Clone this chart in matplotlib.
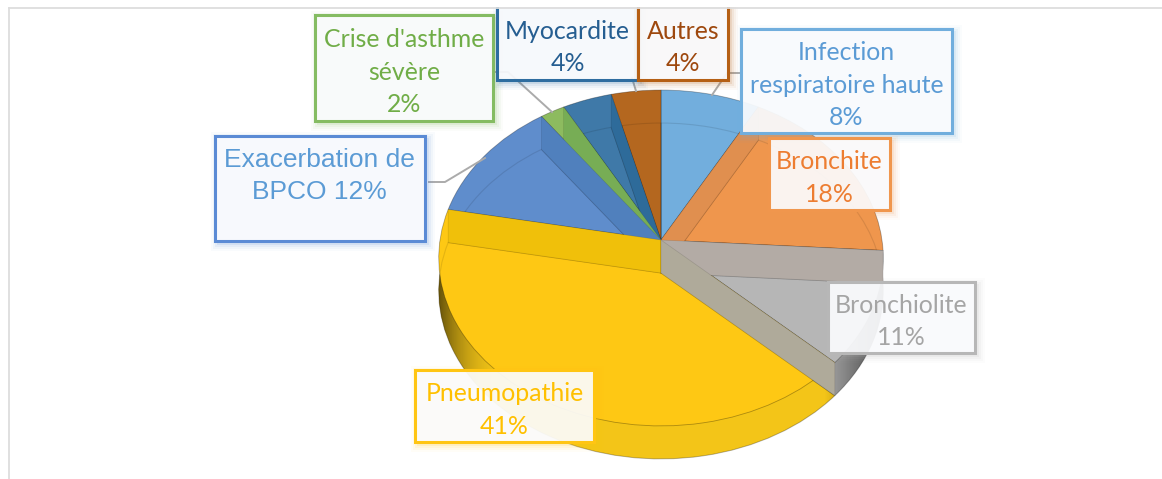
import numpy as np
import matplotlib
matplotlib.use('Agg')
import matplotlib.pyplot as plt
from matplotlib.patches import Polygon, Rectangle
from matplotlib.transforms import Transform, Affine2D

# data
categories = ['Infection\nrespiratoire haute', 'Bronchite', 'Bronchiolite', 'Pneumopathie',
              'Exacerbation de\nBPCO', "Crise d'asthme\nsévère", 'Myocardite', 'Autres']
values = [8, 18, 11, 41, 12, 2, 4, 4]

# styles
face_colors = ['#72AEDD', '#EF964D', '#B6B6B6', '#FEC814', '#5F8DCC', '#8DBB5F', '#3F79A8', '#B4671F']
wall_colors = ['#72AEDD', '#EF964D', '#A8A8A8', '#F3C518', '#5F8DCC', '#8DBB5F', '#3F79A8', '#B4671F']
text_colors = ['#5B9BD5', '#ED7D31', '#A5A5A5', '#FFC000', '#5B9BD5', '#70AD47', '#255E91', '#9E480E']
border_colors = ['#71AEDD', '#F0964D', '#B7B7B7', '#FFC513', '#5B8BD5', '#85BC62', '#2E6DA0', '#B55F14']
# x0, y0, x1, y1 of the label boxes in pixels
boxes = [(741, 29, 952, 133), (769, 138, 890, 210), (828, 282, 975, 353), (415, 370, 594, 442),
         (215, 136, 425, 241), (315, 15, 493, 121), (497, 3, 638, 80), (638, 3, 728, 80)]
# drawing order of the boxes
box_order = [5, 4, 6, 7, 0, 1, 2, 3]
leaders = [[(741, 73), (727, 73), (712, 95)], [(429, 182), (445, 182), (485, 158)],
           [(493, 72), (508, 72), (552, 112)], [(632, 78), (636, 91)]]
# side bands of the wedges, seen through the top: (slice whose start it is, colour)
bands = [(7, '#2E6B9A'), (6, '#77AD55'), (5, '#5080BD'), (4, '#F0C00A'),
         (1, '#E08F4F'), (2, '#B3ABA5'), (3, '#AFAA9A')]

CX, CY = 661, 240
DEPTH = 33


class Persp(Transform):
    # unit pie -> pixels of the picture, the tilt makes the front bigger
    input_dims = 2
    output_dims = 2

    def transform_non_affine(self, xy):
        xy = np.asarray(xy)
        d = 1 + 0.107 * xy[:, 1]
        return np.column_stack([CX + 221 * xy[:, 0] / d, CY - 166 * xy[:, 1] / d])


fig = plt.figure(figsize=(11.62, 4.79), dpi=100)
ax = fig.add_axes([0, 0, 1, 1])

top = Persp() + ax.transData
low = Persp() + Affine2D().translate(0, DEPTH) + ax.transData

# side wall = same pie moved down
walls, _ = ax.pie(values, startangle=90, counterclock=False, colors=wall_colors)
for w in walls:
    w.set_transform(low)
    w.set_zorder(1)
    w.set_edgecolor((0, 0, 0, 0.2))
    w.set_linewidth(0.6)

# dark ends of the wall
grad = np.zeros((1, 450, 4))
xs = np.linspace(438, 888, 450)
grad[0, :, 3] = np.clip((510 - xs) / 70, 0, 1) ** 2.2 * 0.55 + np.clip((xs - 825) / 60, 0, 1) * 0.6
for i in [2, 3]:
    im = ax.imshow(grad, extent=(438, 888, 470, 200), aspect='auto', zorder=2)
    im.set_clip_path(walls[i])

faces, _ = ax.pie(values, startangle=90, counterclock=False, colors=face_colors)
for w in faces:
    w.set_transform(top)
    w.set_zorder(3)
    w.set_edgecolor((0, 0, 0, 0.3))
    w.set_linewidth(0.6)

# rim of the bottom face, seen through the top
inner, _ = ax.pie(values, startangle=90, counterclock=False,
                  colors=['none'] * len(values))
for w in inner:
    w.set_transform(low)
    w.set_zorder(3.5)
    w.set_facecolor('none')
    w.set_edgecolor((0, 0, 0, 0.1))
    w.set_linewidth(0.8)

for idx, col in bands:
    a = np.deg2rad(faces[idx].theta2)
    rim = (np.cos(a), np.sin(a))
    quad = np.array([(0, 0), rim])
    p1 = top.transform(quad)
    p2 = low.transform(quad)
    inv = ax.transData.inverted()
    pts = inv.transform(np.array([p1[0], p1[1], p2[1], p2[0]]))
    ax.add_patch(Polygon(pts, closed=True, facecolor=col, edgecolor=(0, 0, 0, 0.12),
                         linewidth=0.5, zorder=4))

for pts in leaders:
    ax.plot([p[0] for p in pts], [p[1] for p in pts], color='#ABABAB', lw=1.4, zorder=5)

z = 6
for i in box_order:
    x0, y0, x1, y1 = boxes[i]
    w, h = x1 - x0, y1 - y0
    # soft shadow
    for g, al in [(7, 0.03), (5, 0.05), (3, 0.08), (1, 0.12)]:
        ax.add_patch(Rectangle((x0 + 3 - g, y0 + 3 - g), w + 2 * g, h + 2 * g, facecolor=border_colors[i],
                               edgecolor='none', alpha=al, zorder=z))
    ax.add_patch(Rectangle((x0, y0), w, h, facecolor=(0.985, 0.99, 0.995, 0.92),
                           edgecolor=border_colors[i], linewidth=2.2, zorder=z + 0.1))
    if i == 4:
        label = categories[i] + ' %d%%' % values[i]
        ax.text((x0 + x1) / 2 - 1, 176, label, color=text_colors[i], ha='center', va='center',
                family='Liberation Sans', fontsize=19, linespacing=1.45, zorder=z + 0.2)
    else:
        label = categories[i] + '\n%d%%' % values[i]
        shift = 6 if i in (6, 7) else 4
        ax.text((x0 + x1) / 2, (y0 + y1) / 2 + shift, label, color=text_colors[i], ha='center', va='center',
                family='Lato', fontsize=17.9, linespacing=1.5, zorder=z + 0.2)
    z += 1

# chart frame, boxes are cut by it
ax.add_patch(Rectangle((0, 0), 1162, 7, facecolor='white', edgecolor='none', zorder=40))
ax.plot([9, 1162], [7.5, 7.5], color='#DDDDDD', lw=1.3, zorder=41)
ax.plot([9, 9], [7.5, 479], color='#DDDDDD', lw=1.3, zorder=41)

ax.set_aspect('auto')
ax.set_xlim(0, 1162)
ax.set_ylim(479, 0)
ax.axis('off')
fig.savefig('out.png', dpi=100)
